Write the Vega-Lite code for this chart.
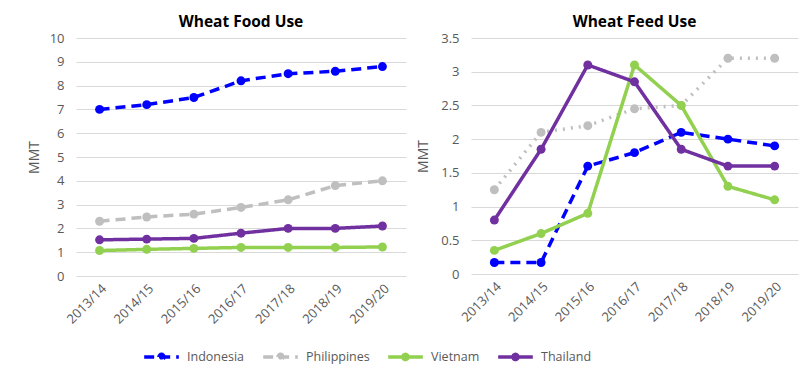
{
  "$schema": "https://vega.github.io/schema/vega-lite/v6.json",
  "padding": {"left": 27, "top": 14, "right": 10, "bottom": 5},
  "config": {
    "font": "Open Sans",
    "view": {"stroke": null},
    "axis": {"labelColor": "#595959", "labelFontSize": 13, "titleColor": "#595959", "titleFontSize": 14, "titleFontWeight": "normal", "gridColor": "#d9d9d9", "domain": false, "ticks": false},
    "title": {"fontSize": 15.5, "fontWeight": "bold", "color": "#000000", "offset": 2}
  },
  "datasets": {
    "food": [
      {"year": "2013/14", "country": "Indonesia", "value": 7.0},
      {"year": "2014/15", "country": "Indonesia", "value": 7.2},
      {"year": "2015/16", "country": "Indonesia", "value": 7.5},
      {"year": "2016/17", "country": "Indonesia", "value": 8.2},
      {"year": "2017/18", "country": "Indonesia", "value": 8.5},
      {"year": "2018/19", "country": "Indonesia", "value": 8.6},
      {"year": "2019/20", "country": "Indonesia", "value": 8.8},
      {"year": "2013/14", "country": "Philippines", "value": 2.3},
      {"year": "2014/15", "country": "Philippines", "value": 2.48},
      {"year": "2015/16", "country": "Philippines", "value": 2.6},
      {"year": "2016/17", "country": "Philippines", "value": 2.88},
      {"year": "2017/18", "country": "Philippines", "value": 3.2},
      {"year": "2018/19", "country": "Philippines", "value": 3.8},
      {"year": "2019/20", "country": "Philippines", "value": 4.0},
      {"year": "2013/14", "country": "Vietnam", "value": 1.07},
      {"year": "2014/15", "country": "Vietnam", "value": 1.12},
      {"year": "2015/16", "country": "Vietnam", "value": 1.16},
      {"year": "2016/17", "country": "Vietnam", "value": 1.2},
      {"year": "2017/18", "country": "Vietnam", "value": 1.2},
      {"year": "2018/19", "country": "Vietnam", "value": 1.2},
      {"year": "2019/20", "country": "Vietnam", "value": 1.22},
      {"year": "2013/14", "country": "Thailand", "value": 1.52},
      {"year": "2014/15", "country": "Thailand", "value": 1.55},
      {"year": "2015/16", "country": "Thailand", "value": 1.58},
      {"year": "2016/17", "country": "Thailand", "value": 1.8},
      {"year": "2017/18", "country": "Thailand", "value": 2.0},
      {"year": "2018/19", "country": "Thailand", "value": 2.0},
      {"year": "2019/20", "country": "Thailand", "value": 2.1}
    ],
    "feed": [
      {"year": "2013/14", "country": "Indonesia", "value": 0.17},
      {"year": "2014/15", "country": "Indonesia", "value": 0.17},
      {"year": "2015/16", "country": "Indonesia", "value": 1.6},
      {"year": "2016/17", "country": "Indonesia", "value": 1.8},
      {"year": "2017/18", "country": "Indonesia", "value": 2.1},
      {"year": "2018/19", "country": "Indonesia", "value": 2.0},
      {"year": "2019/20", "country": "Indonesia", "value": 1.9},
      {"year": "2013/14", "country": "Philippines", "value": 1.25},
      {"year": "2014/15", "country": "Philippines", "value": 2.1},
      {"year": "2015/16", "country": "Philippines", "value": 2.2},
      {"year": "2016/17", "country": "Philippines", "value": 2.45},
      {"year": "2017/18", "country": "Philippines", "value": 2.5},
      {"year": "2018/19", "country": "Philippines", "value": 3.2},
      {"year": "2019/20", "country": "Philippines", "value": 3.2},
      {"year": "2013/14", "country": "Vietnam", "value": 0.35},
      {"year": "2014/15", "country": "Vietnam", "value": 0.6},
      {"year": "2015/16", "country": "Vietnam", "value": 0.9},
      {"year": "2016/17", "country": "Vietnam", "value": 3.1},
      {"year": "2017/18", "country": "Vietnam", "value": 2.5},
      {"year": "2018/19", "country": "Vietnam", "value": 1.3},
      {"year": "2019/20", "country": "Vietnam", "value": 1.1},
      {"year": "2013/14", "country": "Thailand", "value": 0.8},
      {"year": "2014/15", "country": "Thailand", "value": 1.85},
      {"year": "2015/16", "country": "Thailand", "value": 3.1},
      {"year": "2016/17", "country": "Thailand", "value": 2.85},
      {"year": "2017/18", "country": "Thailand", "value": 1.85},
      {"year": "2018/19", "country": "Thailand", "value": 1.6},
      {"year": "2019/20", "country": "Thailand", "value": 1.6}
    ]
  },
  "spacing": 10,
  "hconcat": [
    {
      "title": "Wheat Food Use",
      "width": 330,
      "height": 238,
      "data": {"name": "food"},
      "mark": {"type": "line", "strokeWidth": 3.5, "point": {"size": 80, "filled": true, "opacity": 1}},
      "encoding": {
        "x": {"field": "year", "type": "ordinal", "scale": {"type": "point", "padding": 0.5}, "axis": {"title": null, "labelAngle": -45, "grid": false, "labelPadding": 6}},
        "y": {"field": "value", "type": "quantitative", "scale": {"domain": [0, 10]}, "axis": {"title": "MMT", "values": [0,1,2,3,4,5,6,7,8,9,10], "titlePadding": 8, "labelPadding": 12}},
        "color": {"field": "country", "type": "nominal", "scale": {"domain": ["Indonesia", "Philippines", "Vietnam", "Thailand"], "range": ["#0000FF", "#BFBFBF", "#92D050", "#7030A0"]},
          "legend": {"title": null, "orient": "none", "direction": "horizontal", "legendX": 66, "legendY": 299,
            "symbolType": "M-1,0L1,0M-0.15,0A0.15,0.15 0 1,1 0.15,0A0.15,0.15 0 1,1 -0.15,0Z",
            "symbolSize": 1200, "symbolStrokeWidth": 3.5, "labelFontSize": 12.5, "labelColor": "#595959", "columnPadding": 11, "labelOffset": 6,
            "encode": {"symbols": {"update": {"fill": {"scale": "color", "field": "value"}, "fillOpacity": {"value": 1}}}}}},
        "strokeDash": {"field": "country", "type": "nominal", "scale": {"domain": ["Indonesia", "Philippines", "Vietnam", "Thailand"], "range": [[10, 6], [10, 6], [1, 0], [1, 0]]}}
      }
    },
    {
      "title": "Wheat Feed Use",
      "width": 327,
      "height": 236,
      "data": {"name": "feed"},
      "encoding": {
        "x": {"field": "year", "type": "ordinal", "scale": {"type": "point", "padding": 0.5}, "axis": {"title": null, "labelAngle": -45, "grid": false, "labelPadding": 6}},
        "y": {"field": "value", "type": "quantitative", "scale": {"domain": [0, 3.5]}, "axis": {"title": "MMT", "values": [0,0.5,1,1.5,2,2.5,3,3.5], "format": "~g", "titlePadding": 10, "labelPadding": 12}},
        "color": {"field": "country", "type": "nominal"}
      },
      "layer": [
        {
          "transform": [{"filter": "datum.country === 'Philippines'"}],
          "mark": {"type": "line", "strokeWidth": 3.5, "strokeDash": [2, 6], "point": {"size": 80, "filled": true, "opacity": 1}}
        },
        {
          "transform": [{"filter": "datum.country !== 'Philippines'"}],
          "mark": {"type": "line", "strokeWidth": 3.5, "point": {"size": 80, "filled": true, "opacity": 1}},
          "encoding": {
            "strokeDash": {"field": "country", "type": "nominal"}
          }
        }
      ]
    }
  ]
}
